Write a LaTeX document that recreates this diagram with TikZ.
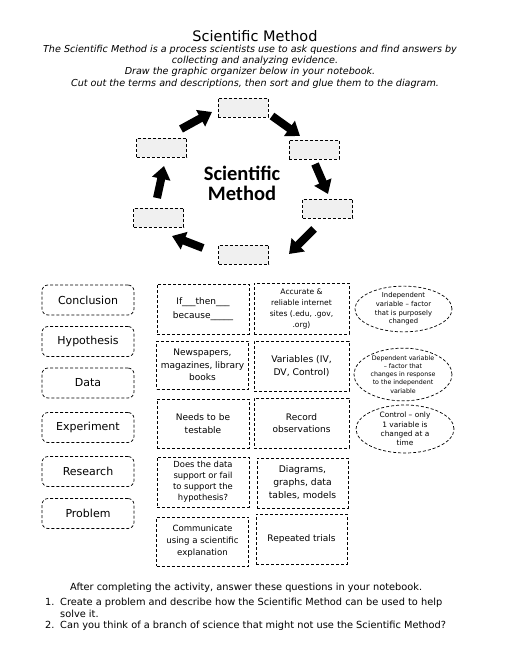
\documentclass[tikz,border=0pt]{standalone}
\usepackage{fontspec}
\setmainfont{DejaVu Sans}
\newfontfamily\carlito{Carlito}
\usetikzlibrary{arrows.meta,shapes.geometric}
\tikzset{
  dsh/.style={draw=black, line width=0.7pt, dash pattern=on 3pt off 2pt},
  termbox/.style={dsh, rounded corners=6pt, minimum width=92pt, minimum height=30pt, inner sep=0pt, font=\fontsize{11}{13}\selectfont},
  descbox/.style={dsh, minimum width=92pt, minimum height=49pt, inner sep=0pt, align=center},
  cyclebox/.style={dsh, fill=gray!12, minimum width=50pt, minimum height=19pt, inner sep=0pt},
  oval/.style={dsh, ellipse, minimum width=98pt, minimum height=46pt, inner sep=0pt, align=center},
  bigarrow/.style={line width=8pt, -{Triangle[length=13pt, width=18pt]}},
  txt/.style={inner sep=0pt, font=\fontsize{9.8}{11}\selectfont},
  instr/.style={inner sep=0pt, anchor=base, font=\fontsize{9.6}{10}\selectfont\itshape},
  centertxt/.style={inner sep=0pt, anchor=base, font=\carlito\bfseries\fontsize{20.5}{18}\selectfont},
}
\begin{document}
\begin{tikzpicture}[x=1pt, y=-1pt]
\useasboundingbox[fill=white] (0,0) rectangle (510,660);

% title and instructions
\node[inner sep=0pt, anchor=base, font=\fontsize{14.5}{16}\selectfont] (title) at (255,42) {Scientific Method};
\node[instr] (i1) at (250,53) {The Scientific Method is a process scientists use to ask questions and find answers by};
\node[instr] (i2) at (255,64) {collecting and analyzing evidence.};
\node[instr] (i3) at (250,75) {Draw the graphic organizer below in your notebook.};
\node[instr] (i4) at (255,87) {Cut out the terms and descriptions, then sort and glue them to the diagram.};

% cycle
\node[cyclebox] (c1) at (243,107.5) {};
\node[cyclebox] (c2) at (314,149.5) {};
\node[cyclebox] (c3) at (327.5,208.5) {};
\node[cyclebox] (c4) at (243.5,254.5) {};
\node[cyclebox] (c5) at (158.5,217.5) {};
\node[cyclebox] (c6) at (161.5,147.5) {};
\node[centertxt] (centerA) at (242,180.5) {Scientific};
\node[centertxt] (centerB) at (242,200.5) {Method};

\coordinate (a1s) at (181,129); \coordinate (a1e) at (212,112);
\coordinate (a2s) at (272,116); \coordinate (a2e) at (300,136);
\coordinate (a3s) at (315,164); \coordinate (a3e) at (328,194);
\coordinate (a4s) at (314,229); \coordinate (a4e) at (289,254);
\coordinate (a5s) at (203,248); \coordinate (a5e) at (172,236);
\coordinate (a6s) at (157,198); \coordinate (a6e) at (164,166);
\foreach \i in {1,...,6} \draw[bigarrow] (a\i s) -- (a\i e);

% term boxes
\node[termbox] (t1) at (88,300) {Conclusion};
\node[termbox] (t2) at (88,341.5) {Hypothesis};
\node[termbox] (t3) at (88,383) {Data};
\node[termbox] (t4) at (88,427.5) {Experiment};
\node[termbox] (t5) at (88,471.5) {Research};
\node[termbox] (t6) at (88,513.5) {Problem};

% description boxes, middle column
\node[descbox, minimum height=50pt, font=\fontsize{9}{14}\selectfont] (d1) at (203,309) {If\_\_\_then\_\_\_\\because\_\_\_\_\_};
\node[descbox, minimum height=48pt, font=\fontsize{9}{12.5}\selectfont] (d2) at (202.5,365) {Newspapers,\\magazines, library\\books};
\node[descbox, font=\fontsize{9}{12.5}\selectfont] (d3) at (203,423.5) {Needs to be\\testable};
\node[descbox, minimum height=50pt, font=\fontsize{8.4}{11}\selectfont] (d4) at (203,482) {Does the data\\support or fail\\to support the\\hypothesis?};
\node[descbox, font=\fontsize{8.6}{12}\selectfont] (d5) at (202.5,541.5) {Communicate\\using a scientific\\explanation};

% description boxes, right column
\node[descbox, minimum width=95pt, minimum height=51pt, font=\fontsize{7.6}{11}\selectfont] (e1) at (301.5,308.5) {Accurate \&\\reliable internet\\sites (.edu, .gov,\\.org)};
\node[descbox, minimum width=95pt, minimum height=50pt, font=\fontsize{9.2}{12.5}\selectfont] (e2) at (301.5,366) {Variables (IV,\\DV, Control)};
\node[descbox, minimum width=95pt, minimum height=50pt, font=\fontsize{9}{12.5}\selectfont] (e3) at (301.5,423) {Record\\observations};
\node[descbox, minimum width=91pt, minimum height=50pt, font=\fontsize{9.2}{13}\selectfont] (e4) at (302.5,483) {Diagrams,\\graphs, data\\tables, models};
\node[descbox, minimum width=91pt, minimum height=50pt, font=\fontsize{9}{12}\selectfont] (e5) at (301.5,539) {Repeated trials};

% ovals
\node[oval, minimum width=97pt, minimum height=42pt, font=\fontsize{6.8}{8.6}\selectfont] (o1) at (403.5,309) {Independent\\variable -- factor\\that is purposely\\changed};
\node[oval, minimum height=47pt, font=\fontsize{6.3}{8.1}\selectfont] (o2) at (403,374.5) {Dependent variable\\-- factor that\\changes in response\\to the independent\\variable};
\node[oval, minimum height=48pt, font=\fontsize{7.4}{9.4}\selectfont] (o3) at (405,429) {Control -- only\\1 variable is\\changed at a\\time};

% questions
\node[txt, anchor=base west] (q0) at (70,590) {After completing the activity, answer these questions in your notebook.};
\node[txt, anchor=base west] (n1) at (45,605) {1.};
\node[txt, anchor=base west] (q1) at (60,605) {Create a problem and describe how the Scientific Method can be used to help};
\node[txt, anchor=base west] (q1b) at (60,617) {solve it.};
\node[txt, anchor=base west] (n2) at (45,628) {2.};
\node[txt, anchor=base west] (q2) at (60,628) {Can you think of a branch of science that might not use the Scientific Method?};
\end{tikzpicture}
\end{document}
